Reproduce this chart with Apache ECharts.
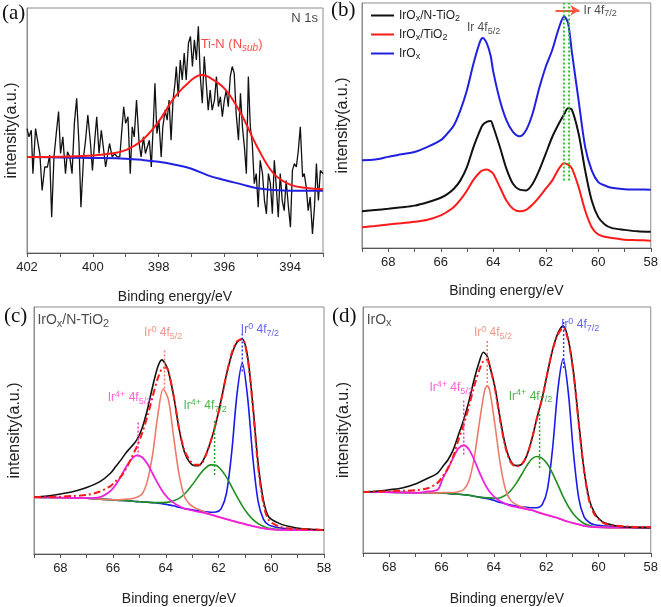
<!DOCTYPE html>
<html><head><meta charset="utf-8">
<script src="https://cdn.jsdelivr.net/npm/echarts@6/dist/echarts.min.js"></script>
<style>html,body{margin:0;padding:0;background:#fff}#c{width:661px;height:607px}</style>
</head><body><div id="c"></div>
<script>
// ---------- Panel (a): N 1s ----------
const aDataE = [402.00,401.94,401.87,401.82,401.74,401.69,401.61,401.54,401.46,401.38,401.31,401.25,401.18,401.11,401.04,400.98,400.91,400.83,400.77,400.70,400.63,400.56,400.49,400.42,400.36,400.28,400.22,400.15,400.07,400.01,399.94,399.88,399.81,399.74,399.68,399.61,399.55,399.49,399.41,399.33,399.26,399.18,399.12,399.06,399.00,398.93,398.86,398.80,398.74,398.67,398.59,398.53,398.46,398.40,398.34,398.28,398.22,398.15,398.11,398.05,397.99,397.92,397.87,397.80,397.74,397.68,397.62,397.56,397.50,397.46,397.40,397.34,397.28,397.22,397.16,397.09,397.03,396.97,396.91,396.85,396.79,396.73,396.67,396.61,396.55,396.49,396.43,396.37,396.30,396.24,396.18,396.12,396.06,396.00,395.94,395.88,395.82,395.76,395.70,395.64,395.57,395.51,395.45,395.39,395.33,395.27,395.21,395.15,395.09,395.03,394.97,394.91,394.84,394.78,394.72,394.66,394.60,394.54,394.48,394.42,394.36,394.30,394.24,394.18,394.12,394.05,393.99,393.93,393.87,393.81,393.75,393.69,393.62,393.57,393.51,393.45,393.39,393.32,393.26,393.20,393.14,393.08,393.00];
const aData = [50.8,47.4,50.1,32.4,50.8,51.5,40.6,25.5,35.1,35.1,39.9,14.6,39.2,48.8,57.7,40.6,47.4,32.4,41.3,39.2,32.4,52.9,63.1,44.7,18.7,39.2,46.0,56.3,44.7,33.7,46.0,55.6,40.6,50.1,43.3,35.1,34.4,44.7,39.2,40.6,39.2,39.2,39.2,59.7,52.9,55.6,32.4,51.5,47.4,62.4,44.7,39.2,47.4,40.6,40.6,46.0,35.1,55.6,69.3,48.8,54.2,39.2,51.5,58.3,54.2,62.4,46.0,62.4,69.3,76.1,63.8,78.8,70.6,81.6,70.6,85.7,88.4,76.1,87.0,78.8,92.5,72.0,61.1,80.2,69.3,58.3,66.5,58.3,62.4,72.0,59.7,63.8,55.6,62.4,66.5,59.7,72.0,76.1,73.4,57.0,46.0,65.2,51.5,43.3,32.4,72.0,51.5,44.7,28.3,32.4,18.7,37.8,32.4,21.4,16.0,32.4,28.3,16.0,37.8,26.9,14.6,32.4,21.4,17.3,29.6,18.7,10.5,33.7,36.5,35.1,41.9,51.5,31.0,32.4,26.9,17.3,22.8,7.8,18.7,36.5,21.4,33.7,32.4];
const aFitE = [402,401,400,399.5,399,398.5,398,397.5,397,396.7,396.5,396,395.5,395,394.5,394,393.5,393];
const aFit = [39.2,39.3,39.8,40.5,42.0,46.0,53.6,63.8,70.6,72.7,72.0,67.2,57.0,43.3,32.4,27.9,26.5,26.0];
const aBgE = [402,401,400,399,398.5,398,397.5,397,396.5,396,395.5,395,394.5,394,393];
const aBg = [39.2,39.0,38.8,38.5,38.0,37.2,36.0,34.4,31.7,29.8,28.1,26.4,25.7,25.4,25.4];

// ---------- Panel (b): Ir 4f comparison ----------
const bE = [69,68.5,68,67.5,67,66.5,66,65.75,65.5,65.25,65,64.75,64.5,64.4,64.25,64.1,64,63.75,63.5,63.25,63,62.75,62.5,62.25,62,61.75,61.5,61.3,61.15,61,60.75,60.5,60.25,60,59.75,59.5,59,58.5,58];
const bNTiO2 = [15.0,15.5,16.0,16.6,17.3,18.7,20.5,22.0,24.2,27.6,33.1,41.3,48.1,50.3,51.5,51.8,49.5,41.3,32.4,26.2,23.8,23.5,26.2,31.7,38.5,45.4,50.8,54.6,57.0,56.3,46.7,31.7,19.4,12.6,9.6,8.2,7.4,6.8,6.6];
const bTiO2 = [8.5,9.0,9.6,10.1,10.7,11.5,13.3,14.8,16.7,19.7,23.5,27.9,31.0,31.7,32.0,31.3,30.3,24.9,19.4,16.0,15.0,15.6,17.8,20.8,24.2,27.6,32.4,34.6,34.0,32.4,24.9,15.3,8.5,5.5,4.6,4.1,3.4,3.2,3.0];
const bIrOx = [35.8,36.1,37.2,38.3,39.2,41.3,44.0,46.7,50.1,56.3,64.5,75.4,84.3,85.7,83.6,78.5,72.0,60.4,52.2,47.4,45.6,48.1,54.9,65.2,74.0,80.9,89.8,94.5,91.8,79.5,60.4,41.3,31.7,26.9,25.5,24.6,24.0,23.9,23.8];
const bNames = ['IrOx/N-TiO2','IrOx/TiO2','IrOx'];
const bGuideE = [61.31,61.11];

// ---------- Panel (c): IrOx/N-TiO2 deconvolution ----------
const cE = [69.0,68.5,68.0,67.5,67.0,66.5,66.1,65.9,65.7,65.5,65.3,65.1,64.9,64.7,64.5,64.3,64.1,63.9,63.7,63.5,63.3,63.1,62.9,62.7,62.5,62.3,62.1,61.9,61.7,61.5,61.3,61.1,60.9,60.7,60.5,60.3,60.1,59.7,59.3,58.9,58.5,58.0];
const cIr4p52 = [23.0,22.9,22.8,22.7,22.6,23.0,25.5,28.0,31.5,35.3,38.4,39.9,39.2,36.5,32.6,28.5,25.0,22.4,20.7,19.4,18.4,17.9,17.4,17.0,16.5,15.9,15.3,14.7,14.1,13.5,12.9,12.4,11.8,11.3,10.8,10.4,10.1,9.8,9.7,9.7,9.7,9.7];
const cIr0_52 = [23.0,22.9,22.8,22.7,22.6,22.2,22.0,21.9,22.0,22.2,22.4,23.0,24.3,29.5,40.3,56.4,66.8,62.4,47.1,32.4,23.4,20.2,18.7,17.8,16.9,16.1,15.3,14.7,14.1,13.5,12.9,12.4,11.8,11.3,10.8,10.4,10.1,9.8,9.7,9.7,9.7,9.7];
const cIr4p72 = [23.0,22.9,22.8,22.7,22.6,22.2,22.0,21.8,21.7,21.6,21.4,21.2,21.1,21.0,20.8,20.8,20.8,21.0,21.6,22.5,24.2,26.6,29.4,32.4,34.8,36.1,35.9,34.1,31.1,27.2,23.2,19.5,16.4,14.0,12.3,11.2,10.4,9.9,9.7,9.7,9.7,9.7];
const cIr0_72 = [23.0,22.9,22.8,22.7,22.6,22.2,22.0,21.8,21.7,21.6,21.4,21.2,21.1,21.0,20.8,20.6,20.3,19.9,19.5,18.9,18.4,18.1,17.7,17.4,17.1,16.9,17.0,18.4,24.6,41.3,64.7,77.3,63.6,39.1,21.3,14.1,11.8,10.6,10.1,9.9,9.7,9.7];
const cDataE = [69.0,68.5,68.0,67.5,67.0,66.5,66.1,65.9,65.7,65.5,65.3,65.1,64.9,64.7,64.5,64.3,64.15,64.0,63.9,63.7,63.5,63.3,63.1,62.9,62.7,62.5,62.3,62.1,61.9,61.7,61.5,61.3,61.1,60.9,60.7,60.5,60.3,60.1,59.7,59.3,58.9,58.5,58.0];
const cData = [23.0,23.5,24.3,25.3,26.9,29.3,32.7,35.4,38.1,41.1,43.5,46.2,50.9,58.4,67.8,75.9,78.6,76.6,73.9,63.8,50.9,41.5,37.2,35.7,36.1,39.7,45.5,53.0,62.4,72.6,80.7,85.7,87.0,80.0,60.4,36.8,21.9,15.1,12.4,11.1,10.3,10.0,9.7];
const cFit = [23.0,23.1,23.2,23.5,23.9,25.3,27.5,29.5,31.4,34.7,39.0,43.5,48.9,55.7,63.8,71.2,75.0,75.5,73.9,63.8,50.9,42.2,38.1,36.1,36.1,39.5,45.5,53.0,62.4,72.6,81.4,86.1,87.0,79.3,59.7,35.4,20.5,13.8,11.1,10.3,10.0,10.0,9.7];

// ---------- Panel (d): IrOx deconvolution ----------
const dE = [69.0,68.5,68.0,67.5,67.0,66.55,66.15,65.95,65.75,65.55,65.35,65.15,64.95,64.75,64.55,64.35,64.25,64.15,63.95,63.75,63.55,63.35,63.15,62.95,62.75,62.55,62.35,62.15,61.95,61.75,61.55,61.35,61.15,60.95,60.75,60.55,60.35,60.15,59.75,59.35,58.95,58.5,58.0];
const dIr4p52 = [24.8,24.8,24.7,24.6,24.5,25.0,25.7,30.3,34.3,38.8,42.5,43.8,42.1,37.9,32.8,28.2,26.3,24.8,22.5,21.0,20.0,19.2,18.7,18.2,17.8,17.4,16.7,16.0,15.4,14.8,14.2,13.4,12.7,12.1,11.6,11.0,10.7,10.5,10.4,10.3,10.3,10.3,10.3];
const dIr0_52 = [24.8,24.8,24.7,24.6,24.5,24.5,24.4,24.6,24.6,24.6,24.9,25.8,29.4,38.6,53.1,66.1,68.0,65.7,51.6,36.0,25.7,21.3,19.7,18.8,18.2,17.6,16.7,16.0,15.4,14.8,14.2,13.4,12.7,12.1,11.6,11.0,10.7,10.5,10.4,10.3,10.3,10.3,10.3];
const dIr4p72 = [24.8,24.8,24.7,24.6,24.5,24.5,24.4,24.4,24.2,24.0,23.9,23.7,23.5,23.1,22.7,22.5,22.4,22.4,22.2,22.5,23.5,25.4,28.2,31.7,35.3,38.2,39.2,38.5,36.2,32.3,27.7,22.9,18.9,15.8,13.6,12.0,11.2,10.7,10.4,10.3,10.3,10.3,10.3];
const dIr0_72 = [24.8,24.8,24.7,24.6,24.5,24.5,24.4,24.4,24.2,24.0,23.9,23.7,23.5,23.1,22.7,22.3,22.1,21.9,21.2,20.5,20.0,19.5,19.1,18.8,18.6,18.4,18.4,19.7,25.9,42.8,66.5,78.9,65.0,40.1,22.1,14.7,12.4,11.5,11.0,10.6,10.5,10.3,10.3];
const dDataE = [69.0,68.5,68.0,67.5,67.0,66.5,66.15,65.95,65.75,65.55,65.35,65.15,64.95,64.75,64.55,64.4,64.25,64.15,63.95,63.75,63.55,63.35,63.15,62.95,62.75,62.55,62.35,62.15,61.95,61.75,61.55,61.35,61.15,60.95,60.75,60.55,60.35,60.15,59.95,59.75,59.35,58.95,58.5,58.0];
const dData = [24.8,25.1,25.7,26.4,28.0,30.5,32.5,35.2,37.9,42.0,48.1,54.2,61.7,70.5,77.9,81.6,79.9,75.9,67.1,54.2,43.4,37.3,35.5,35.9,39.3,46.1,54.9,63.0,73.2,82.7,89.4,92.4,86.7,73.2,52.8,33.9,21.7,16.3,13.6,12.2,11.1,10.6,10.4,10.3];
const dFit = [24.8,25.0,25.1,25.3,25.5,26.4,28.5,31.2,34.6,39.3,46.1,52.2,59.6,67.8,74.5,78.0,78.6,75.9,66.4,53.5,42.7,36.9,35.2,35.9,39.3,46.1,54.9,63.0,73.2,82.7,88.8,91.5,86.0,72.5,52.2,33.2,21.0,15.6,13.2,11.9,11.1,10.8,10.6,10.6];

// peak-position guide lines (energy, from, to)
const cGuides = [{e:65.05,v1:39.5,v2:53.6,c:'#ff33cc'},{e:64.05,v1:67,v2:83,c:'#f07a6a'},{e:62.15,v1:32,v2:54.3,c:'#22a022'},{e:61.1,v1:73.9,v2:90.1,c:'#3a3af0'}];
const dGuides = [{e:65.15,v1:40,v2:62.3,c:'#ff33cc'},{e:64.25,v1:67.5,v2:86.7,c:'#f07a6a'},{e:62.25,v1:34.6,v2:57.2,c:'#22a022'},{e:61.33,v1:75.2,v2:94.9,c:'#3a3af0'}];

// annotation texts
const aNotes = [{t:'N 1s',e:393.15,v:95.6,c:'#111',al:'right',fs:13},{t:'Ti-N (N{si|sub})',e:396.72,v:85,c:'#ff1a1a',al:'left',fs:13}];
const bNotes = [{t:'Ir 4f{sub|5/2}',e:64.37,v:89.9,c:'#222',al:'center',fs:12},{t:'Ir 4f{sub|7/2}',e:60.56,v:97,c:'#222',al:'left',fs:12}];
const cNotes = [{t:'IrO{sub|x}/N-TiO{sub|2}',e:68.87,v:94.7,c:'#222',al:'left',fs:14},{t:'Ir{sup|0} 4f{sub|5/2}',e:64.1,v:89.5,c:'#f07a6a',al:'center',fs:12},{t:'Ir{sup|0} 4f{sub|7/2}',e:60.43,v:90.8,c:'#3a3af0',al:'center',fs:12},{t:'Ir{sup|4+} 4f{sub|5/2}',e:65.38,v:63.1,c:'#ff33cc',al:'center',fs:12},{t:'Ir{sup|4+} 4f{sub|7/2}',e:62.51,v:60.0,c:'#22a022',al:'center',fs:12}];
const dNotes = [{t:'IrO{sub|x}',e:68.86,v:94.8,c:'#222',al:'left',fs:14},{t:'Ir{sup|0} 4f{sub|5/2}',e:64.03,v:89.4,c:'#f07a6a',al:'center',fs:12},{t:'Ir{sup|0} 4f{sub|7/2}',e:60.70,v:92.8,c:'#3a3af0',al:'center',fs:12},{t:'Ir{sup|4+} 4f{sub|5/2}',e:65.63,v:67.1,c:'#ff33cc',al:'center',fs:12},{t:'Ir{sup|4+} 4f{sub|7/2}',e:62.6,v:63.7,c:'#22a022',al:'center',fs:12}];

// ---------- build ----------
const FONT = '"Liberation Sans", Arial, sans-serif';
const pair = (E, V) => E.map((e, i) => [e, V[i]]);
function line(gi, E, V, color, width, type, z, smooth, name) {
  return {type:'line', name:name, xAxisIndex:gi, yAxisIndex:gi, data:pair(E, V), showSymbol:false, symbol:'none',
    smooth:smooth, lineStyle:{color:color, width:width, type:type}, itemStyle:{color:color}, z:z, silent:true};
}
function notes(gi, list) {
  return {type:'scatter', xAxisIndex:gi, yAxisIndex:gi, symbolSize:0.1, silent:true, z:20,
    itemStyle:{color:'transparent'},
    data:list.map(n => ({value:[n.e, n.v], label:{show:true, position:'inside', formatter:n.t, align:n.al, verticalAlign:'middle',
      color:n.c, fontSize:n.fs, fontFamily:FONT,
      rich:{sup:{fontSize:Math.round(n.fs*0.75), color:n.c, fontFamily:FONT, padding:[0,0,7,0]},
            sub:{fontSize:Math.round(n.fs*0.75), color:n.c, fontFamily:FONT, padding:[7,0,0,0]},
            si:{fontSize:Math.round(n.fs*0.75), color:n.c, fontFamily:FONT, fontStyle:'italic', padding:[7,0,0,0]}}}}))};
}
function guides(gi, list, width, dash) {
  return list.map(g => ({type:'line', xAxisIndex:gi, yAxisIndex:gi, data:[[g.e, g.v1],[g.e, g.v2]], showSymbol:false, symbol:'none',
    lineStyle:{color:g.c, width:width, type:dash}, z:15, silent:true}));
}
const grids = [
  {left:27, top:8, width:296, height:245},
  {left:362, top:3, width:290, height:245},
  {left:34, top:307, width:290, height:247},
  {left:363, top:307, width:290, height:246}
].map(g => Object.assign(g, {show:true, borderColor:'#8c8c8c', borderWidth:1, backgroundColor:'transparent'}));
const xr = [[393,402],[58,69],[58,69],[58,69]];
const nameGaps = [37,36,38,39];
const xAxes = xr.map((r, i) => ({gridIndex:i, type:'value', min:r[0], max:r[1], inverse:true, interval:1,
  axisLine:{show:true, onZero:false, lineStyle:{color:'#555', width:1.2}},
  axisTick:{show:true, inside:false, length:4, lineStyle:{color:'#555'}},
  axisLabel:{margin:8, fontSize:13, color:'#222', fontFamily:FONT, formatter: v => (v % 2 === 0 ? String(v) : '')},
  splitLine:{show:false},
  name:'Binding energy/eV', nameLocation:'middle', nameGap:nameGaps[i], nameTextStyle:{fontSize:14, color:'#222', fontFamily:FONT}}));
const yGaps = [7,11,11,11];
const yAxes = [0,1,2,3].map(i => ({gridIndex:i, type:'value', min:0, max:100,
  axisLine:{show:true, lineStyle:{color:'#8c8c8c'}}, axisTick:{show:false}, axisLabel:{show:false}, splitLine:{show:false},
  name:'intensity(a.u.)', nameLocation:'middle', nameGap:yGaps[i], nameTextStyle:{fontSize:16, color:'#222', fontFamily:FONT}}));

const RED = '#ff1a1a', BLK = '#111', BLU = '#2020e0';
const MAG = '#f020e0', SAL = '#f07a6a', GRN = '#1f8f1f', CBL = '#1a1aee';
const dashDot = [7,3,2,3];
const series = [
  line(0, aDataE, aData, BLK, 1.3, 'solid', 3, false),
  line(0, aBgE, aBg, BLU, 2, 'solid', 4, 0.4),
  line(0, aFitE, aFit, RED, 2, 'solid', 5, 0.4),
  notes(0, aNotes),
  line(1, bE, bIrOx, BLU, 2, 'solid', 3, 0.3, bNames[2]),
  line(1, bE, bNTiO2, BLK, 2, 'solid', 4, 0.3, bNames[0]),
  line(1, bE, bTiO2, RED, 2, 'solid', 5, 0.3, bNames[1]),
  ...guides(1, bGuideE.map(e => ({e:e, v1:27.6, v2:100, c:'#2fbf2f'})), 2, [2,2]),
  Object.assign(notes(1, bNotes), {markLine:{silent:true, symbol:['none','arrow'], symbolSize:[8,9], label:{show:false},
    lineStyle:{color:'#ff5a40', width:2, type:'solid'}, data:[[{coord:[61.63,97]},{coord:[60.72,97]}]]}}),
  line(2, cE, cIr0_72, CBL, 1.6, 'solid', 3, 0.3),
  line(2, cE, cIr4p72, GRN, 1.6, 'solid', 3, 0.3),
  line(2, cE, cIr0_52, SAL, 1.6, 'solid', 3, 0.3),
  line(2, cE, cIr4p52, MAG, 1.8, 'solid', 4, 0.3),
  line(2, cDataE, cData, BLK, 1.6, 'solid', 6, 0.3),
  line(2, cDataE, cFit, RED, 2, dashDot, 7, 0.3),
  ...guides(2, cGuides, 1.5, [2,2]),
  notes(2, cNotes),
  line(3, dE, dIr0_72, CBL, 1.6, 'solid', 3, 0.3),
  line(3, dE, dIr4p72, GRN, 1.6, 'solid', 3, 0.3),
  line(3, dE, dIr0_52, SAL, 1.6, 'solid', 3, 0.3),
  line(3, dE, dIr4p52, MAG, 1.8, 'solid', 4, 0.3),
  line(3, dDataE, dData, BLK, 1.6, 'solid', 6, 0.3),
  line(3, dDataE, dFit, RED, 2, dashDot, 7, 0.3),
  ...guides(3, dGuides, 1.5, [2,2]),
  notes(3, dNotes)
];
const legendText = {'IrOx/N-TiO2':'IrO{s|x}/N-TiO{s|2}', 'IrOx/TiO2':'IrO{s|x}/TiO{s|2}', 'IrOx':'IrO{s|x}'};
const option = {
  animation:false,
  backgroundColor:'#fff',
  grid:grids, xAxis:xAxes, yAxis:yAxes,
  legend:{data:bNames, orient:'vertical', left:366, top:2, icon:'rect', itemWidth:23, itemHeight:2, itemGap:2,
    formatter: n => legendText[n],
    textStyle:{fontSize:12, color:'#222', fontFamily:FONT, lineHeight:17,
      rich:{s:{fontSize:9, fontFamily:FONT, color:'#222', padding:[7,0,0,0]}}}},
  graphic:[
    {type:'text', left:2, top:3, style:{text:'(a)', font:'21px "Liberation Serif", serif', fill:'#111'}},
    {type:'text', left:331, top:0, style:{text:'(b)', font:'21px "Liberation Serif", serif', fill:'#111'}},
    {type:'text', left:4, top:306, style:{text:'(c)', font:'21px "Liberation Serif", serif', fill:'#111'}},
    {type:'text', left:332, top:306, style:{text:'(d)', font:'21px "Liberation Serif", serif', fill:'#111'}}
  ],
  series:series
};
echarts.init(document.getElementById('c')).setOption(option);
</script></body></html>
